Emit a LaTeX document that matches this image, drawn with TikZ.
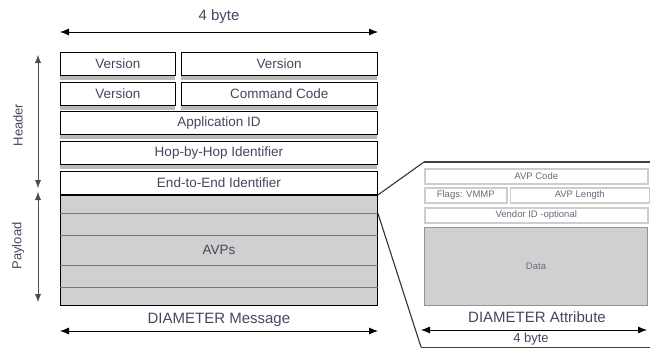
\documentclass[tikz,border=0pt]{standalone}
\usepackage{fontspec}
\setmainfont{Liberation Sans}
\usetikzlibrary{positioning,shadows,arrows.meta}

\definecolor{txt}{RGB}{70,70,95}
\definecolor{lighttxt}{RGB}{105,105,125}
\definecolor{avpfill}{RGB}{208,208,208}
\definecolor{avpline}{RGB}{120,120,120}
\definecolor{attrbox}{RGB}{205,205,205}

\begin{document}
\begin{tikzpicture}[x=1pt, y=-1pt,
		every node/.style={text=txt, inner sep=0pt},
		row/.style={draw, thick, fill=white, minimum height=23pt, font=\fontsize{13.5}{15}\selectfont,
			drop shadow={shadow xshift=0pt, shadow yshift=-5pt, fill=gray!55, opacity=1}},
		field/.style={draw=attrbox, line width=1.5pt, fill=white, font=\fontsize{9.5}{11}\selectfont, text=lighttxt},
		lbl/.style={font=\fontsize{15}{17}\selectfont},
		span/.style={<->, >={Latex[length=9pt, width=7pt]}, thick},
		side/.style={<->, >={Latex[length=8pt, width=6pt]}, thin, black!70}]
		\useasboundingbox (0,0) rectangle (650,348);

		% DIAMETER message
		\node [row, minimum width=115pt, anchor=north west] (ver1) at (60,52) {Version};
		\node [row, minimum width=196pt, right=5pt of ver1] (ver2) {Version};
		\node [row, minimum width=115pt, below=6pt of ver1] (ver3) {Version};
		\node [row, minimum width=196pt, right=5pt of ver3] (cmd) {Command Code};
		\node [row, minimum width=317pt, anchor=north west] (app) at (60,111) {Application ID};
		\node [row, minimum width=317pt, below=6pt of app] (hop) {Hop-by-Hop Identifier};
		\node [row, minimum width=317pt, below=6pt of hop] (e2e) {End-to-End Identifier};
		\node [draw, thick, fill=avpfill, minimum width=317pt, minimum height=110pt, anchor=north west,
			font=\fontsize{13.5}{15}\selectfont] (avps) at (60,195) {};
		\foreach \d in {18,40,70,92}
			\draw [avpline, semithick] ([yshift=-\d pt]avps.north west) -- ([yshift=-\d pt]avps.north east);
		\node [font=\fontsize{13.5}{15}\selectfont] at (avps.center) {AVPs};

		% extents
		\coordinate (toplft) at (60,32);
		\coordinate (toprgt) at (378,32);
		\node [lbl] (topbyte) at (219,17) {4 byte};
		\draw [span] (toplft) -- (toprgt);

		\coordinate (hdtop) at (38,55);
		\coordinate (hdbot) at (38,188);
		\coordinate (pltop) at (38,192);
		\coordinate (plbot) at (38,302);
		\draw [side] (hdtop) -- (hdbot);
		\draw [side] (pltop) -- (plbot);
		\node [lbl, rotate=90, font=\fontsize{13}{15}\selectfont] (header) at (18,125) {Header};
		\node [lbl, rotate=90, font=\fontsize{13}{15}\selectfont] (payload) at (18,246) {Payload};

		\node [lbl, below=7pt of avps] (msg) {DIAMETER Message};
		\coordinate (msglft) at (60,331);
		\coordinate (msgrgt) at (378,331);
		\draw [span] (msglft) -- (msgrgt);

		% DIAMETER attribute
		\coordinate (atl) at (424,162);
		\coordinate (atr) at (650,162);
		\coordinate (abl) at (421,347);
		\coordinate (abr) at (650,347);
		\draw [black!75, line width=1.3pt] (atl) -- (atr);
		\draw [black!75, thin] (abl) -- (abr);
		\draw [black!80, line width=1.1pt] (avps.north east) -- (atl);
		\draw [black!80, line width=1.1pt] ([yshift=-18pt]avps.north east) -- (abl);

		\node [field, minimum width=223pt, minimum height=15pt, anchor=north west] (code) at (424,168) {AVP Code};
		\node [field, minimum width=82pt, minimum height=15pt, anchor=north west] (flags) at (424,187) {Flags: VMMP};
		\node [field, minimum width=139pt, minimum height=15pt, right=2pt of flags] (len) {AVP Length};
		\node [field, minimum width=223pt, minimum height=15pt, anchor=north west] (vendor) at (424,207) {Vendor ID -optional};
		\node [field, draw=avpline!80, line width=1pt, fill=avpfill, minimum width=223pt, minimum height=78pt,
			anchor=north west] (data) at (424,227) {Data};

		\node [lbl] (attr) at (537,317) {DIAMETER Attribute};
		\coordinate (attlft) at (421,330);
		\coordinate (attrgt) at (647,330);
		\draw [span] (attlft) -- (attrgt);
		\node [lbl, font=\fontsize{13}{15}\selectfont] (attbyte) at (531,339) {4 byte};
\end{tikzpicture}
\end{document}
